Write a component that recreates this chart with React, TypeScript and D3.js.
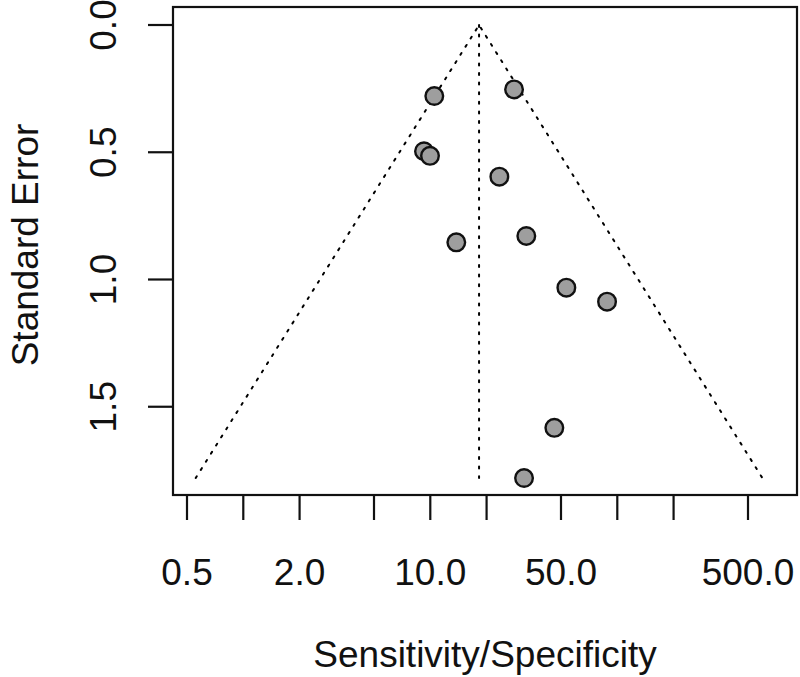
import React from "react";
import * as d3 from "d3";

// log diagnostic ratio estimates (natural log) and their standard errors
const estimates = [2.352, 3.334, 2.225, 2.299, 3.153, 2.623, 3.485, 3.978, 4.479, 3.830, 3.457];
const stdErrors = [0.279, 0.253, 0.496, 0.514, 0.596, 0.854, 0.829, 1.032, 1.087, 1.583, 1.780];
const pooledEstimate = 2.903;
const xTickValues = [0.5, 1, 2, 5, 10, 20, 50, 100, 200, 500];
const xTickLabels = ["0.5", "", "2.0", "", "10.0", "", "50.0", "", "", "500.0"];
const yTickValues = [0, 0.5, 1.0, 1.5];
const yTickLabels = ["0.0", "0.5", "1.0", "1.5"];
const xTitle = "Sensitivity/Specificity";
const yTitle = "Standard Error";

const W = 800;
const H = 677;
const box = { left: 173, top: 7, right: 797, bottom: 495 };
const FONT = "'Liberation Sans', Arial, Helvetica, sans-serif";

export default function App() {
  const x = d3.scaleLinear().domain([Math.log(0.5), Math.log(500)]).range([187, 748]);
  const y = d3.scaleLinear().domain([0, 1.5]).range([25, 25 + 254.5 * 1.5]);

  const seMax = d3.max(stdErrors) as number;
  const funnel = d3.line<[number, number]>().x((d) => x(d[0])).y((d) => y(d[1]));
  const funnelPts: [number, number][] = [
    [pooledEstimate - 1.96 * seMax, seMax],
    [pooledEstimate, 0],
    [pooledEstimate + 1.96 * seMax, seMax],
  ];
  const centerLine: [number, number][] = [
    [pooledEstimate, 0],
    [pooledEstimate, seMax],
  ];
  const points = estimates.map((e, i) => ({ e, se: stdErrors[i] }));
  const dash = "2 7.6";
  const fs = 37;
  const yMid = (box.top + box.bottom) / 2 - 6;
  const xMid = (box.left + box.right) / 2;

  return (
    <svg
      width={W}
      height={H}
      style={{ position: "absolute", left: 0, top: 0, background: "#fff" }}
      fontFamily={FONT}
    >
      <rect x={0} y={0} width={W} height={H} fill="#fff" />
      <path d={funnel(funnelPts) || ""} fill="none" stroke="#000" strokeWidth={2} strokeDasharray={dash} strokeLinecap="round" />
      <path d={funnel(centerLine) || ""} fill="none" stroke="#000" strokeWidth={2} strokeDasharray={dash} strokeLinecap="round" />
      {points.map((p, i) => (
        <circle key={i} cx={x(p.e)} cy={y(p.se)} r={8.8} fill="#9e9e9e" stroke="#111" strokeWidth={2.4} />
      ))}
      <rect
        x={box.left}
        y={box.top}
        width={box.right - box.left}
        height={box.bottom - box.top}
        fill="none"
        stroke="#111"
        strokeWidth={2.2}
      />
      {xTickValues.map((v, i) => (
        <g key={"xt" + i}>
          <line x1={x(Math.log(v))} x2={x(Math.log(v))} y1={box.bottom} y2={box.bottom + 25} stroke="#111" strokeWidth={2.2} />
          {xTickLabels[i] && (
            <text x={x(Math.log(v))} y={585} textAnchor="middle" fontSize={fs} fill="#111">
              {xTickLabels[i]}
            </text>
          )}
        </g>
      ))}
      {yTickValues.map((v, i) => (
        <g key={"yt" + i}>
          <line x1={box.left - 25} x2={box.left} y1={y(v)} y2={y(v)} stroke="#111" strokeWidth={2.2} />
          <text
            transform={`translate(116,${y(v)}) rotate(-90)`}
            textAnchor="middle"
            fontSize={fs}
            fill="#111"
          >
            {yTickLabels[i]}
          </text>
        </g>
      ))}
      <text x={xMid} y={667} textAnchor="middle" fontSize={fs} fill="#111">
        {xTitle}
      </text>
      <text transform={`translate(38,${yMid}) rotate(-90)`} textAnchor="middle" fontSize={fs} fill="#111">
        {yTitle}
      </text>
    </svg>
  );
}
